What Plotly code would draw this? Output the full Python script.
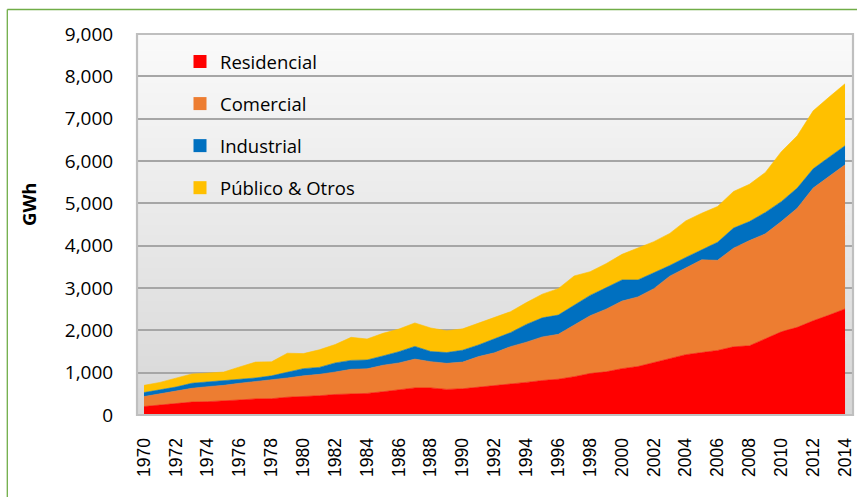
import plotly.graph_objects as go

years = list(range(1970, 2015))

residencial = [200, 235, 275, 305, 315, 330, 355, 380, 385, 420,
               435, 455, 485, 505, 510, 550, 590, 640, 640, 605,
               620, 655, 690, 725, 770, 815, 845, 905, 980, 1020,
               1095, 1145, 1235, 1320, 1425, 1475, 1525, 1610, 1635, 1800,
               1965, 2070, 2225, 2360, 2505]
comercial = [235, 260, 285, 325, 355, 370, 395, 410, 435, 455,
             490, 505, 530, 575, 580, 625, 640, 680, 620, 615,
             630, 725, 780, 890, 950, 1030, 1060, 1210, 1365, 1480,
             1595, 1645, 1750, 1960, 2055, 2190, 2130, 2330, 2485, 2480,
             2605, 2815, 3135, 3275, 3405]
industrial = [95, 95, 100, 120, 110, 105, 95, 85, 105, 135,
              170, 165, 215, 210, 210, 220, 265, 300, 240, 255,
              280, 275, 330, 330, 420, 450, 455, 475, 480, 505,
              500, 400, 370, 250, 240, 235, 425, 475, 450, 505,
              470, 475, 455, 455, 450]
publico = [170, 180, 210, 220, 210, 210, 290, 375, 330, 450,
           355, 415, 435, 545, 495, 535, 535, 555, 555, 515,
           505, 510, 495, 495, 515, 560, 625, 695, 560, 570,
           605, 750, 740, 760, 865, 865, 845, 865, 880, 945,
           1180, 1235, 1370, 1420, 1465]

series_names = ["Residencial", "Comercial", "Industrial", "Público & Otros"]
series_values = [residencial, comercial, industrial, publico]
series_colors = ["#ff0000", "#ed7d31", "#0070c0", "#ffc000"]

y_ticks = list(range(0, 9001, 1000))
y_tick_labels = [f"{v:,}" for v in y_ticks]
x_ticks = list(range(1970, 2015, 2))

W, H = 857, 497
ML, MR, MT, MB = 137, 4, 34, 82
PW, PH = W - ML - MR, H - MT - MB


def px_x(p):
    return (p - ML) / PW


def px_y(p):
    return (H - MB - p) / PH


fig = go.Figure()

for name, vals, col in zip(series_names, series_values, series_colors):
    fig.add_trace(go.Scatter(
        x=years, y=vals, name=name, stackgroup="one", mode="lines",
        line=dict(width=0.6, color=col), fillcolor=col,
        showlegend=False, hoverinfo="x+y+name",
    ))

for i, (name, col) in enumerate(zip(series_names, series_colors)):
    fig.add_trace(go.Scatter(
        x=[None], y=[None], name=name, mode="markers",
        marker=dict(symbol="square", size=13, color=col),
        legendgroup=f"g{i}", showlegend=True,
    ))

shapes = []
# gradient plot background
n = 70
top_c, bot_c = 250, 215
for i in range(n):
    t = (i + 0.5) / n
    c = round(bot_c + (top_c - bot_c) * t)
    shapes.append(dict(
        type="rect", xref="paper", yref="paper", layer="below",
        x0=0, x1=1, y0=i / n, y1=min(1, (i + 1) / n + 0.003),
        fillcolor=f"rgb({c},{c},{c})", line=dict(width=0),
    ))
# plot frame
shapes.append(dict(
    type="rect", xref="paper", yref="paper", layer="above",
    x0=0, x1=1, y0=0, y1=1, line=dict(color="#bfbfbf", width=2.2),
))
# green outer border (top and left)
gx = px_x(7.3)
gy = px_y(9.5)
shapes.append(dict(type="line", xref="paper", yref="paper",
                   x0=gx, x1=px_x(W + 5), y0=gy, y1=gy,
                   line=dict(color="#70ad47", width=1.3)))
shapes.append(dict(type="line", xref="paper", yref="paper",
                   x0=gx, x1=gx, y0=gy, y1=px_y(H + 5),
                   line=dict(color="#70ad47", width=1.3)))

fig.update_layout(
    width=W, height=H,
    margin=dict(l=ML, r=MR, t=MT, b=MB, autoexpand=False),
    paper_bgcolor="white", plot_bgcolor="white",
    shapes=shapes,
    showlegend=True,
    legend=dict(
        x=px_x(180), y=px_y(43), xanchor="left", yanchor="top",
        bgcolor="rgba(0,0,0,0)", borderwidth=0,
        font=dict(family="Open Sans", size=18.5, color="#000000"),
        tracegroupgap=15, itemclick=False,
    ),
    annotations=[dict(
        text="<b>GWh</b>", xref="paper", yref="paper",
        x=px_x(28), y=px_y(205), xanchor="center", yanchor="middle",
        textangle=-90, showarrow=False,
        font=dict(family="Open Sans", size=18.5, color="#000000"),
    )],
    xaxis=dict(
        range=[1969.56, 2014.5], tickmode="array", tickvals=x_ticks,
        ticktext=[str(v) for v in x_ticks], tickangle=-90,
        showgrid=False, zeroline=False, showline=False,
        ticks="outside", ticklen=15, tickcolor="rgba(0,0,0,0)",
        tickfont=dict(family="Liberation Sans", size=17.5, color="#000000"),
    ),
    yaxis=dict(
        range=[0, 9000], tickmode="array", tickvals=y_ticks,
        ticktext=y_tick_labels,
        showgrid=True, gridcolor="#a6a6a6", gridwidth=1.5,
        zeroline=False, showline=False,
        ticks="outside", ticklen=19, tickcolor="rgba(0,0,0,0)",
        tickfont=dict(family="Open Sans", size=19, color="#000000"),
    ),
)

fig.write_html(
    "out.html",
    config={"displayModeBar": False},
    post_script="document.body.style.margin='0';document.body.style.overflow='hidden';",
)
